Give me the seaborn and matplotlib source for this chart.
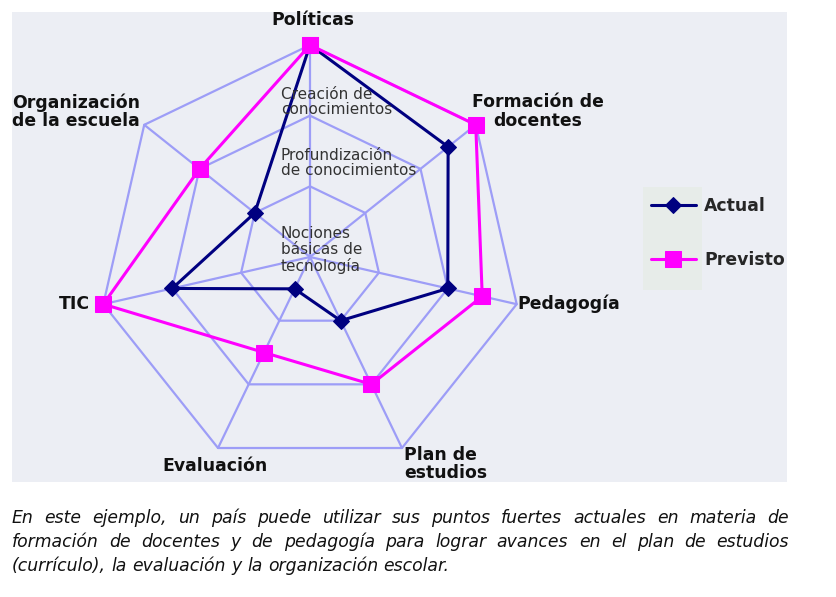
import numpy as np
import pandas as pd
import seaborn as sns
import matplotlib.pyplot as plt
from matplotlib.patches import Rectangle

# ---------------- data ----------------
categorias = ["Políticas", "Formación de\ndocentes", "Pedagogía", "Plan de\nestudios",
              "Evaluación", "TIC", "Organización\nde la escuela"]
actual = [3, 2.5, 2, 1, 0.5, 2, 1]
previsto = [3, 3, 2.5, 2, 1.5, 3, 2]
niveles = [1, 2, 3]
nivel_labels = ["Nociones\nbásicas de\ntecnología",
                "Profundización\nde conocimientos",
                "Creación de\nconocimientos"]
series = ["Actual", "Previsto"]
caption_lines = [
    "En este ejemplo, un país puede utilizar sus puntos fuertes actuales en materia de",
    "formación de docentes y de pedagogía para lograr avances en el plan de estudios",
    "(currículo), la evaluación y la organización escolar.",
]

# ---------------- style ----------------
sns.set_style("white")
plt.rcParams["font.family"] = ["DejaVu Sans"]

W, H = 836, 597
fig = plt.figure(figsize=(W / 100, H / 100), dpi=100)
fig.patch.set_facecolor("white")

# chart panel background
fig.patches.append(Rectangle((12 / W, 1 - 482 / H), (787 - 12) / W, (482 - 12) / H,
                             transform=fig.transFigure, facecolor="#eceef4",
                             edgecolor="none", zorder=-2))
# legend background
fig.patches.append(Rectangle((643 / W, 1 - 290 / H), (702 - 643) / W, (290 - 187) / H,
                             transform=fig.transFigure, facecolor="#e7ece9",
                             edgecolor="none", zorder=-1))

CX, CY, RPX = 310, 257, 212
RMAX = 3.3
rad = RPX * RMAX / 3
ax = fig.add_axes([(CX - rad) / W, (H - CY - rad) / H, 2 * rad / W, 2 * rad / H],
                  projection="polar")
ax.set_zorder(1)
ax.set_theta_zero_location("N")
ax.set_theta_direction(-1)
ax.set_ylim(0, RMAX)
ax.patch.set_visible(False)
ax.grid(False)
ax.spines["polar"].set_visible(False)
ax.set_xticks([])
ax.set_yticks([])

n = len(categorias)
theta = np.arange(n) * 2 * np.pi / n
theta_c = np.append(theta, theta[0])

gridc = "#9d9df7"
for lvl in niveles:
    ax.plot(theta_c, [lvl] * len(theta_c), color=gridc, lw=1.6, zorder=1)
for t in theta:
    ax.plot([t, t], [0, max(niveles)], color=gridc, lw=1.6, zorder=1)

df = pd.DataFrame({
    "theta": np.concatenate([theta_c, theta_c]),
    "r": list(actual) + [actual[0]] + list(previsto) + [previsto[0]],
    "serie": [series[0]] * (n + 1) + [series[1]] * (n + 1),
})

colors = {"Actual": "#000080", "Previsto": "#ff00ff"}
markers = {"Actual": "D", "Previsto": "s"}
msizes = {"Actual": 8, "Previsto": 11.5}
for s in series:
    sub = df[df["serie"] == s]
    sns.lineplot(data=sub, x="theta", y="r", sort=False, estimator=None, ax=ax,
                 color=colors[s], lw=2.2, marker=markers[s], markersize=msizes[s],
                 markeredgecolor=colors[s], zorder=3, legend=False)
ax.set_xlabel("")
ax.set_ylabel("")
for ln in ax.lines:
    ln.set_clip_on(False)

# axis labels
LFS = 12.4
offs = [(3, 25, "center"), (62, 13, "center"), (1, 0, "left"), (2, -16, "left"),
        (-3, -18, "center"), (-13, 0, "right"), (-4, 13, "right")]
for t, lab, (dx, dy, ha) in zip(theta, categorias, offs):
    ax.annotate(lab, xy=(t, max(niveles)), xytext=(dx, dy), textcoords="offset pixels",
                ha=ha, va="center", multialignment="left" if ha != "center" else "center",
                fontsize=LFS, fontweight="bold", color="#111111", linespacing=1.05,
                annotation_clip=False)

# level labels
lvl_dy = [7, 94, 155]
for lab, dy in zip(nivel_labels, lvl_dy):
    ax.annotate(lab, xy=(0, 0), xytext=(-29, dy), textcoords="offset pixels",
                ha="left", va="center", fontsize=11, color="#333333",
                linespacing=1.08, zorder=4)

# legend
h = [ax.lines[-2], ax.lines[-1]]
fig.legend(handles=h, labels=series, loc="upper left",
           bbox_to_anchor=(651 / W, 1 - 197 / H), frameon=False,
           prop={"weight": "bold", "size": LFS}, handlelength=2.6,
           handletextpad=0.5, labelspacing=2.08, borderpad=0, borderaxespad=0)

# caption (justified)
fig.canvas.draw()
renderer = fig.canvas.get_renderer()
x0, x1 = 12, 789
ys = [518, 542, 566]
FS = 12.4
for i, (line, y) in enumerate(zip(caption_lines, ys)):
    words = line.split(" ")
    txts = [fig.text(0, 0, w, fontsize=FS, style="italic", color="#111111",
                     ha="left", va="center") for w in words]
    widths = [t.get_window_extent(renderer).width for t in txts]
    if i < len(caption_lines) - 1:
        gap = (x1 - x0 - sum(widths)) / (len(words) - 1)
    else:
        sp = fig.text(0, 0, "a a", fontsize=FS, style="italic")
        sa = fig.text(0, 0, "aa", fontsize=FS, style="italic")
        gap = sp.get_window_extent(renderer).width - sa.get_window_extent(renderer).width
        sp.remove(); sa.remove()
    x = x0
    for t, w in zip(txts, widths):
        t.set_position((x / W, 1 - y / H))
        x += w + gap

fig.savefig("out.png", dpi=100)
